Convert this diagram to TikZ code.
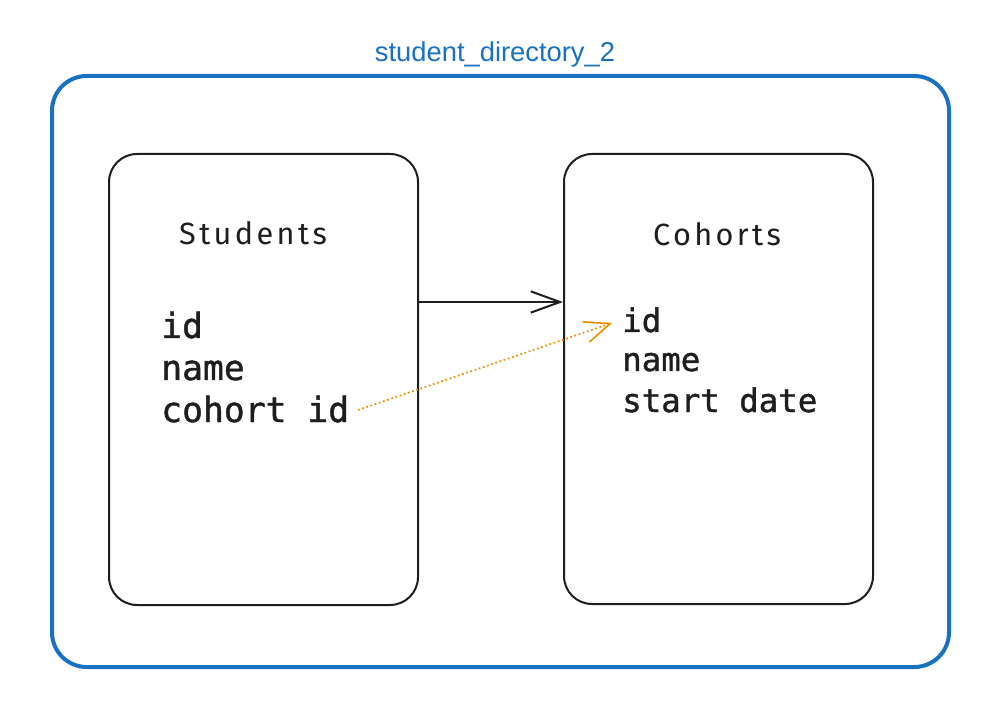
\documentclass[tikz,border=0pt]{standalone}
\usepackage{fontspec}
\setmainfont{Liberation Sans}
\newfontfamily\monof[FakeBold=1.2]{DejaVu Sans Mono}
\newfontfamily\handf[LetterSpace=11]{Fira Sans}
\usetikzlibrary{arrows.meta}
\definecolor{blueline}{HTML}{1971C2}
\definecolor{orangeline}{HTML}{F08C00}
\definecolor{ink}{HTML}{1E1E1E}
\begin{document}
\begin{tikzpicture}[x=0.75pt,y=-0.75pt,
  tablebox/.style={draw=ink,line width=1.5pt,rounded corners=21pt},
  header/.style={font=\handf\fontsize{23}{27}\selectfont,text=ink,anchor=base,inner sep=0pt},
  fieldA/.style={font=\monof\fontsize{26}{30}\selectfont,text=ink,anchor=base west,inner sep=0pt},
  fieldB/.style={font=\monof\fontsize{24.3}{28}\selectfont,text=ink,anchor=base west,inner sep=0pt}]
\useasboundingbox (0,0) rectangle (1001,706);
\fill[white] (0,0) rectangle (1001,706);
% outer group
\draw[blueline,line width=3pt,rounded corners=26pt] (52,76) rectangle (949,667);
\node[font=\fontsize{20.5}{24}\selectfont,text=blueline,anchor=base,inner sep=0pt] (title) at (495,62) {student\_directory\_2};
% tables
\draw[tablebox] (109,154) rectangle (418,605);
\coordinate (sR) at (418,302);
\draw[tablebox] (564,154) rectangle (873,604);
\coordinate (cL) at (563,302);
\node[header] (sh) at (253,245) {Students};
\node[header] (ch) at (717,246) {Cohorts};
\node[fieldA] (sid) at (161,338) {id};
\node[fieldA] (sname) at (161,380) {name};
\node[fieldA] (scid) at (161,422) {cohort id};
\node[fieldB] (cid) at (622,332) {id};
\node[fieldB] (cname) at (622,371) {name};
\node[fieldB] (cstart) at (622,412) {start date};
\coordinate (dA) at (358,410);
\coordinate (dB) at (612,323);
% connectors
\draw[ink,line width=1.5pt,-{Straight Barb[length=22pt,width=16pt,line width=1.5pt]}] (sR) -- (cL);
\draw[orangeline,line width=1.3pt,dotted,-{Straight Barb[length=19pt,width=16pt,line width=1.2pt]}] (dA) -- (dB);
\end{tikzpicture}
\end{document}
